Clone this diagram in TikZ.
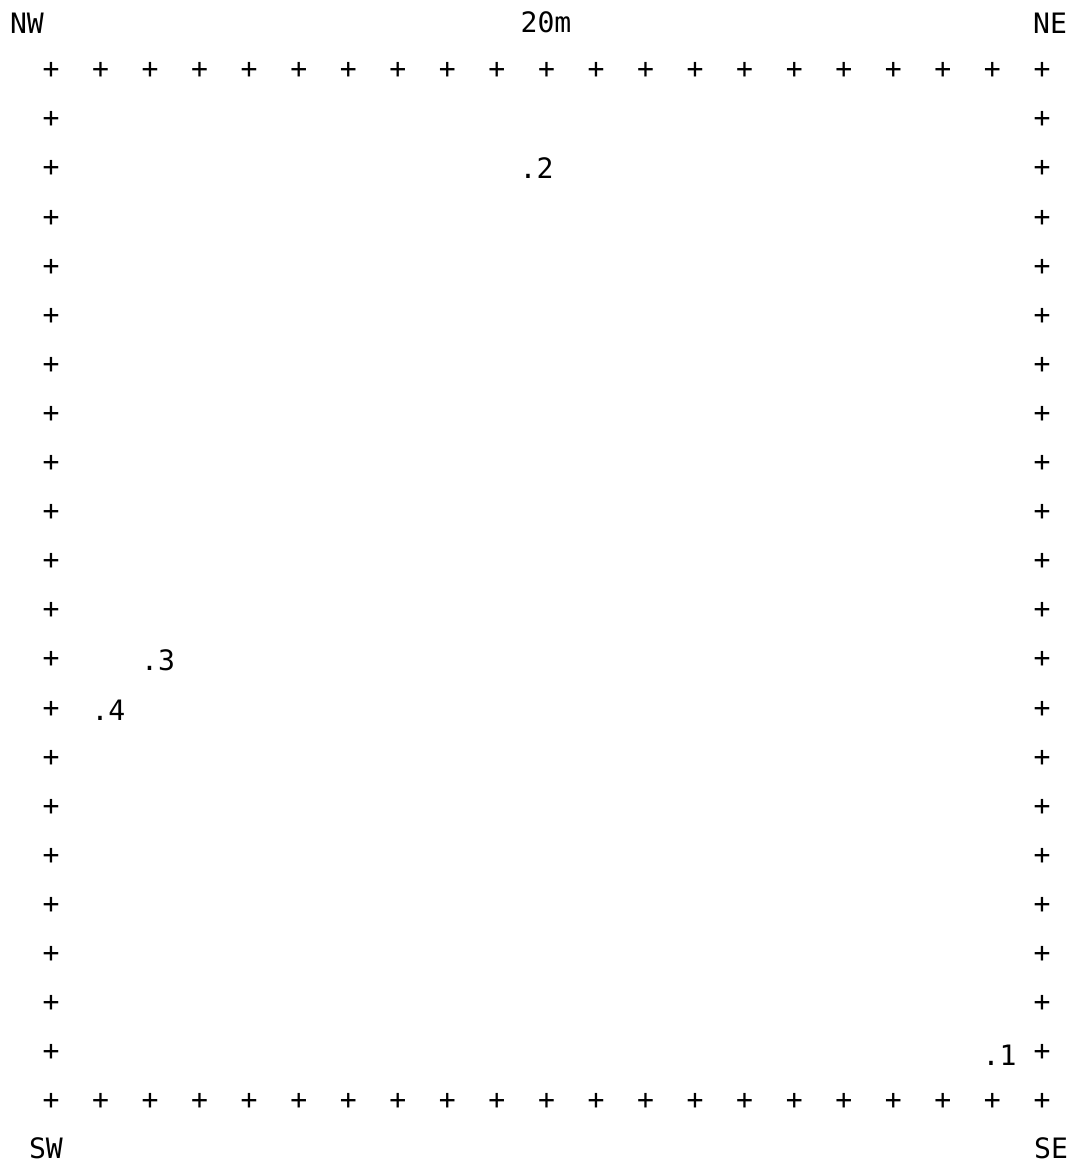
\documentclass[tikz,border=0pt]{standalone}
\usepackage{fontspec}
\setmonofont{DejaVu Sans Mono}
\tikzset{
  % characters typed on the plot sheet
  sheettext/.style={font=\ttfamily\fontsize{16}{19}\selectfont, inner sep=0pt},
  gridplus/.style={sheettext, anchor=center},
  sheetlabel/.style={sheettext, anchor=base},
}
% grid position of a plus: column #1, row #2
\newcommand{\plotpt}[2]{({51+#1*49.55},{70.7+#2*49.1})}

\begin{document}
\begin{tikzpicture}[x=0.02cm, y=-0.02cm]
  \useasboundingbox (0,0) rectangle (1075,1167);

  % border of plus signs
  \foreach \c in {0,...,20} {
    \node [gridplus] (top-\c) at \plotpt{\c}{0} {+};
    \node [gridplus] (bot-\c) at \plotpt{\c}{21} {+};
  }
  \foreach \r in {1,...,20} {
    \node [gridplus] (west-\r) at \plotpt{0}{\r} {+};
    \node [gridplus] (east-\r) at \plotpt{20}{\r} {+};
  }

  % corners and scale
  \node [sheetlabel] (NW) at (27,33) {NW};
  \node [sheetlabel] (NE) at (1050,33) {NE};
  \node [sheetlabel] (SW) at (46,1158) {SW};
  \node [sheetlabel] (SE) at (1051,1158) {SE};
  \node [sheetlabel] (scale) at (546,32.5) {20m};

  % plotted points
  \node [sheetlabel] (pt1) at (999.5,1065) {.1};
  \node [sheetlabel] (pt2) at (536.5,178) {.2};
  \node [sheetlabel] (pt3) at (158,670) {.3};
  \node [sheetlabel] (pt4) at (108.5,720) {.4};

\end{tikzpicture}
\end{document}
